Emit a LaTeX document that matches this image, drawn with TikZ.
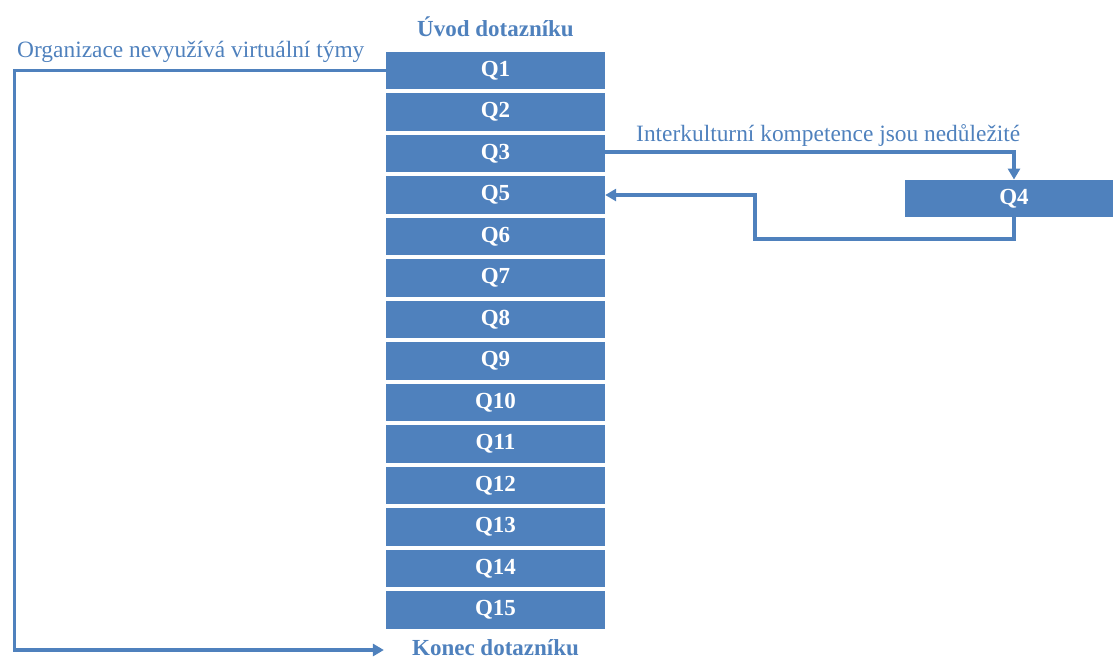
\documentclass[tikz,border=0pt]{standalone}
\usepackage{fontspec}
\setmainfont{Liberation Serif}
\usetikzlibrary{arrows.meta}
\definecolor{qblue}{HTML}{4F81BD}
\tikzset{
  qbox/.style={fill=qblue, text=white, minimum width=219pt, minimum height=37.5pt,
    inner sep=0pt, font=\fontsize{23}{26}\selectfont\bfseries},
  title/.style={text=qblue, font=\fontsize{23}{26}\selectfont\bfseries, inner sep=0pt},
  label/.style={text=qblue, font=\fontsize{23.4}{26}\selectfont, inner sep=0pt},
  flow/.style={draw=qblue, line width=3.4pt,
    -{Triangle[length=11pt,width=12pt]}},
}
\begin{document}
\begin{tikzpicture}[x=1pt,y=-1pt]
\useasboundingbox (0,0) rectangle (1113,659);
\clip (0,0) rectangle (1113,659);
% questionnaire column
\foreach \q [count=\i from 0] in {1,2,3,5,6,7,8,9,10,11,12,13,14,15}
  \node[qbox] (Q\q) at (495.5,{70.5+41.5*\i}) {Q\q};
% branch box
\node[qbox] (Q4) at (1014,198.5) {Q4};
% titles
\node[title, anchor=base] (uvod) at (495.5,36) {Úvod dotazníku};
\node[title, anchor=base] (konec) at (495.5,655) {Konec dotazníku};
% branch labels
\node[label, anchor=base west] (org) at (17,57) {Organizace nevyužívá virtuální týmy};
\node[label, anchor=base west] (ik) at (636,141) {Interkulturní kompetence jsou nedůležité};
% connectors
\draw[flow] (Q1.west) -- (14.5,70.5) |- ([xshift=-28pt]konec.west |- 0,650);
\draw[flow] (Q3.east) ++(0,-1.5) -| (Q4.north);
\draw[flow] (Q4.south) |- (755,239) |- (Q5.east);
\end{tikzpicture}
\end{document}
